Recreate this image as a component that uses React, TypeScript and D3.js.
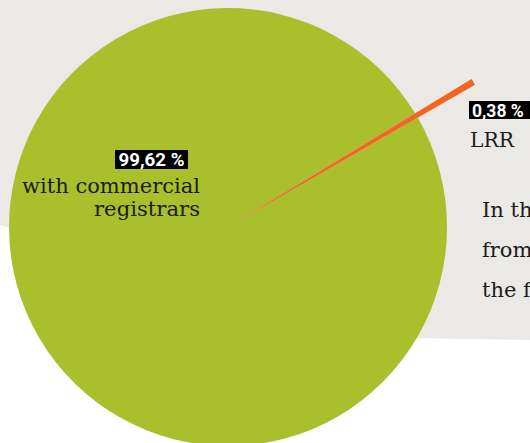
import React from "react";
import * as d3 from "d3";

const categories = ["LRR", "with commercial registrars"];
const values = [0.38, 99.62];
const valueLabels = ["0,38 %", "99,62 %"];
const colors = ["#f26522", "#a9bf2c"];
const sideText = ["In the period", "from the start", "the first year"];

const W = 530;
const H = 443;

export default function App() {
  const cx = 228;
  const cy = 227;
  const r = 219;
  const rOut = 285;
  const centerDeg = 59.4;
  const half = (values[0] / 100) * Math.PI;
  const start = (centerDeg * Math.PI) / 180 - half;
  const pie = d3
    .pie<number>()
    .sort(null)
    .value((d) => d)
    .startAngle(start)
    .endAngle(start + 2 * Math.PI);
  const arcs = pie(values);
  const arcMain = d3.arc<d3.PieArcDatum<number>>().innerRadius(0).outerRadius(r);
  const arcSmall = d3.arc<d3.PieArcDatum<number>>().innerRadius(0).outerRadius(rOut);

  const bg = "M0,0 L530,0 L530,340 L415,338 L228,300 L0,225 Z";
  const serif = "DejaVu Serif, serif";
  const ink = "#1c1c1c";

  return (
    <div style={{ position: "fixed", left: 0, top: 0, width: W, height: H }}>
      <svg width={W} height={H} style={{ display: "block" }}>
        <rect width={W} height={H} fill="#ffffff" />
        <path d={bg} fill="#eae9e5" />
        <g transform={`translate(${cx},${cy})`}>
          <path d={arcMain(arcs[1]) || ""} fill={colors[1]} />
          <path d={arcSmall(arcs[0]) || ""} fill={colors[0]} />
        </g>
        <rect x={115} y={150} width={73} height={19} fill="#000" />
        <text x={151.5} y={165.5} textAnchor="middle" fill="#fff" fontFamily="Roboto, sans-serif" fontWeight={700} fontSize={17.5} textLength={66} lengthAdjust="spacingAndGlyphs">
          {valueLabels[1]}
        </text>
        <text x={200} y={193} textAnchor="end" fill={ink} fontFamily={serif} fontSize={21} textLength={178} lengthAdjust="spacingAndGlyphs">
          with commercial
        </text>
        <text x={200} y={216} textAnchor="end" fill={ink} fontFamily={serif} fontSize={21} textLength={106} lengthAdjust="spacingAndGlyphs">
          registrars
        </text>
        <rect x={469} y={101} width={70} height={18} fill="#000" />
        <text x={472} y={116.5} fill="#fff" fontFamily="Roboto, sans-serif" fontWeight={700} fontSize={17.5}>
          {valueLabels[0]}
        </text>
        <text x={470} y={147} fill={ink} fontFamily={serif} fontSize={21} textLength={44} lengthAdjust="spacingAndGlyphs">
          {categories[0]}
        </text>
        {sideText.map((t, i) => (
          <text key={i} x={482} y={217 + i * 40} fill={ink} fontFamily={serif} fontSize={21}>
            {t}
          </text>
        ))}
      </svg>
    </div>
  );
}
